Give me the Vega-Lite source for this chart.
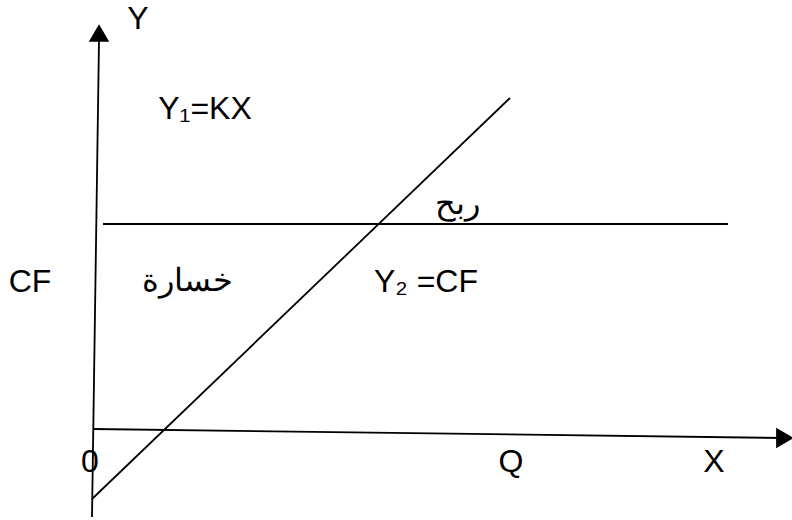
{
  "$schema": "https://vega.github.io/schema/vega-lite/v6.json",
  "width": 792,
  "height": 520,
  "padding": 0,
  "autosize": {"type": "none"},
  "background": "white",
  "config": {"view": {"stroke": null}},
  "datasets": {
    "lines": [
      {"name": "axisY", "x": 92, "y": 517, "x2": 99, "y2": 40},
      {"name": "axisX", "x": 93, "y": 429, "x2": 782, "y2": 438},
      {"name": "Y1", "x": 92, "y": 499, "x2": 510, "y2": 98},
      {"name": "Y2", "x": 103, "y": 224, "x2": 728, "y2": 224}
    ],
    "arrows": [
      {"name": "Yhead", "x": 99, "y": 33, "shape": "triangle-up"},
      {"name": "Xhead", "x": 785, "y": 438, "shape": "triangle-right"}
    ],
    "labels": [
      {"label": "Y", "x": 138, "y": 19},
      {"label": "Y₁=KX", "x": 205, "y": 109},
      {"label": "ربح", "x": 457, "y": 204},
      {"label": "CF", "x": 30, "y": 282},
      {"label": "خسارة", "x": 187, "y": 281},
      {"label": "Y₂ =CF", "x": 426, "y": 282},
      {"label": "0", "x": 90, "y": 462},
      {"label": "Q", "x": 511, "y": 462},
      {"label": "X", "x": 714, "y": 462}
    ]
  },
  "layer": [
    {
      "data": {"name": "lines"},
      "mark": {"type": "rule", "color": "black", "strokeWidth": 1.8},
      "encoding": {
        "x": {"field": "x", "type": "quantitative", "scale": {"domain": [0, 792], "nice": false, "zero": false}, "axis": null},
        "y": {"field": "y", "type": "quantitative", "scale": {"domain": [0, 520], "nice": false, "zero": false, "reverse": true}, "axis": null},
        "x2": {"field": "x2"},
        "y2": {"field": "y2"}
      }
    },
    {
      "data": {"name": "arrows"},
      "mark": {"type": "point", "filled": true, "color": "black", "opacity": 1, "size": 420},
      "encoding": {
        "x": {"field": "x", "type": "quantitative"},
        "y": {"field": "y", "type": "quantitative"},
        "shape": {"field": "shape", "type": "nominal", "scale": null, "legend": null}
      }
    },
    {
      "data": {"name": "labels"},
      "mark": {"type": "text", "font": "Liberation Sans", "fontSize": 32, "color": "black", "align": "center", "baseline": "middle"},
      "encoding": {
        "x": {"field": "x", "type": "quantitative"},
        "y": {"field": "y", "type": "quantitative"},
        "text": {"field": "label", "type": "nominal"}
      }
    }
  ]
}
